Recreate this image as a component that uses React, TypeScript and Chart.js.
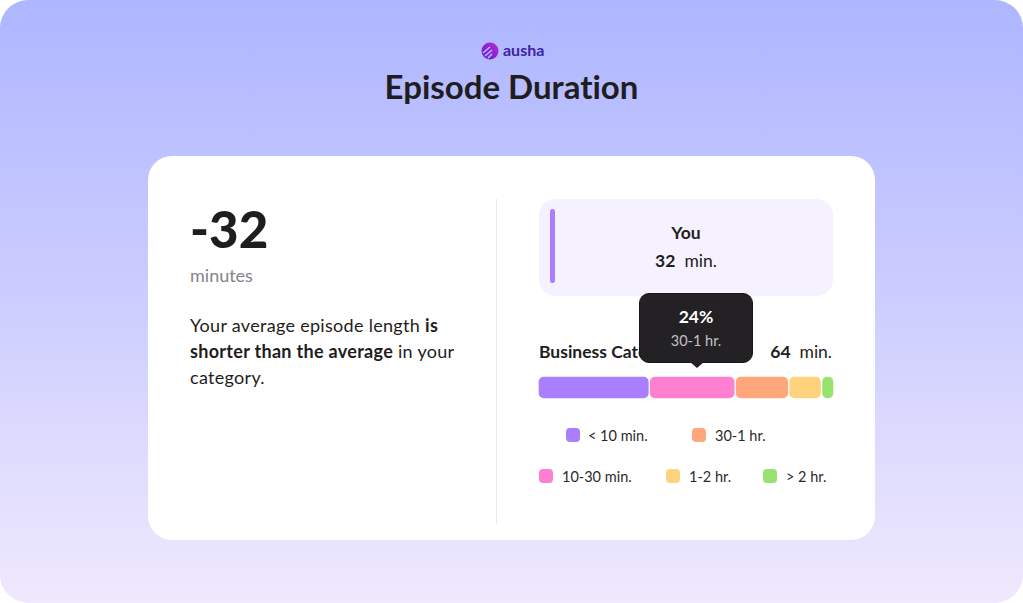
import { useEffect, useRef } from 'react';
import type { CSSProperties } from 'react';
import { Chart, registerables } from 'chart.js';

Chart.register(...registerables);

// share of episodes per duration bucket (%)
const categories = ['< 10 min.', '10-30 min.', '30-1 hr.', '1-2 hr.', '> 2 hr.'];
const shares = [37.6, 29, 18.1, 11.1, 4.2];
const colors = ['#a97eff', '#ff7fd1', '#ffa77b', '#ffd27d', '#98e26f'];

const legendRows = [
    [{ index: 0, swatch: 566, text: 588 }, { index: 2, swatch: 692, text: 715 }],
    [{ index: 1, swatch: 539, text: 562 }, { index: 3, swatch: 666, text: 689 }, { index: 4, swatch: 763, text: 786 }],
];
const legendTops = [435, 476];

const FONT = 'Lato, "Open Sans", sans-serif';
const INK = '#1f1d20';

const abs = (left: number, top: number, extra: CSSProperties = {}): CSSProperties => ({
    position: 'absolute',
    left,
    top,
    whiteSpace: 'nowrap',
    ...extra,
});

function DurationBar() {
    const canvasRef = useRef<HTMLCanvasElement>(null);

    useEffect(() => {
        if (!canvasRef.current) return;
        // floating bars, because stacked ones only round the ends of the stack
        let start = 0;
        const datasets = categories.map((label, i) => {
            const range: [number, number] = [start, start + shares[i]];
            start += shares[i];
            return {
                label,
                data: [range],
                backgroundColor: colors[i],
                borderColor: '#ffffff',
                borderWidth: 1,
                borderSkipped: false,
                borderRadius: 6,
                barThickness: 23,
                grouped: false,
            };
        });
        const chart = new Chart(canvasRef.current, {
            type: 'bar',
            data: { labels: ['Business'], datasets },
            options: {
                indexAxis: 'y',
                animation: false,
                responsive: false,
                maintainAspectRatio: false,
                layout: { padding: 0 },
                plugins: { legend: { display: false }, tooltip: { enabled: false } },
                scales: {
                    x: { display: false, min: 0, max: 100 },
                    y: { display: false },
                },
            },
        });
        return () => chart.destroy();
    }, []);

    return <canvas ref={canvasRef} width={296} height={33} style={abs(538, 371, { width: 296, height: 33 })} />;
}

export default function App() {
    const bodyLine: CSSProperties = { fontSize: 18, lineHeight: '26px', letterSpacing: 0.3 };
    return (
        <div style={{ position: 'absolute', left: 0, top: 0, width: 1023, height: 603, background: '#fff', fontFamily: FONT, color: INK, overflow: 'hidden', fontVariantLigatures: 'none' }}>
            <div style={{ position: 'absolute', inset: 0, borderRadius: 28, background: 'linear-gradient(180deg, #aeb6ff 0%, #c6c8ff 40%, #efe9fd 100%)' }} />

            <svg width={18} height={18} viewBox="0 0 18 18" style={abs(481, 42)}>
                <defs>
                    <linearGradient id="logo" x1="0" y1="1" x2="1" y2="0">
                        <stop offset="0" stopColor="#5b1fd0" />
                        <stop offset="1" stopColor="#c026d3" />
                    </linearGradient>
                </defs>
                <circle cx="9" cy="9" r="8.5" fill="url(#logo)" />
                <path d="M2 11 L9 5 M4 14 L11 8 M7 16 L11 12" stroke="#b5baff" strokeWidth="1.6" />
            </svg>
            <div style={abs(503, 40, { fontSize: 16, fontWeight: 700, color: '#3f1fa3', lineHeight: '19px' })}>ausha</div>
            <div style={abs(0, 66, { width: 1023, textAlign: 'center', fontSize: 33, fontWeight: 700, lineHeight: '40px' })}>Episode Duration</div>

            <div style={abs(148, 156, { width: 727, height: 384, background: '#fff', borderRadius: 24 })} />
            <div style={abs(496, 199, { width: 1, height: 325, background: '#e9e9ec' })} />

            <div style={abs(190, 198, { fontSize: 51, fontWeight: 900, lineHeight: '62px' })}>-32</div>
            <div style={abs(190, 264, { fontSize: 18, color: '#85838a', lineHeight: '22px' })}>minutes</div>
            <div style={abs(190, 312, bodyLine)}>
                <span>Your average episode length </span><b>is</b>
            </div>
            <div style={abs(190, 338, bodyLine)}>
                <b>shorter than the average</b><span> in your</span>
            </div>
            <div style={abs(190, 364, bodyLine)}>category.</div>

            <div style={abs(539, 199, { width: 294, height: 97, background: '#f5f1ff', borderRadius: 16 })} />
            <div style={abs(550, 209, { width: 5, height: 74, background: '#a97eff', borderRadius: 3 })} />
            <div style={abs(539, 222, { width: 294, textAlign: 'center', fontSize: 17.5, fontWeight: 700, lineHeight: '22px' })}>You</div>
            <div style={abs(539, 250, { width: 294, textAlign: 'center', fontSize: 17.5, lineHeight: '22px' })}>
                <b>32</b>&nbsp; min.
            </div>

            <div style={abs(539, 341, { fontSize: 17.5, fontWeight: 700, lineHeight: '22px' })}>Business Category</div>
            <div style={abs(733, 341, { width: 99, textAlign: 'right', fontSize: 17.5, lineHeight: '22px' })}>
                <b>64</b>&nbsp; min.
            </div>

            <DurationBar />

            <div style={abs(639, 293, { width: 114, height: 70, background: '#232124', borderRadius: 10, border: '1px solid #17161a', boxSizing: 'border-box', textAlign: 'center' })}>
                <div style={{ color: '#fff', fontSize: 17.5, fontWeight: 700, lineHeight: '22px', marginTop: 12 }}>24%</div>
                <div style={{ color: '#c4c3c7', fontSize: 14.5, lineHeight: '20px', marginTop: 3 }}>30-1 hr.</div>
            </div>
            <div style={abs(690, 362, { width: 0, height: 0, borderLeft: '7px solid transparent', borderRight: '7px solid transparent', borderTop: '6px solid #232124' })} />

            {legendRows.map((row, r) =>
                row.map(item => (
                    <div key={item.index}>
                        <div style={abs(item.swatch, legendTops[r] - 7, { width: 14, height: 14, borderRadius: 4, background: colors[item.index] })} />
                        <div style={abs(item.text, legendTops[r] - 9, { fontSize: 14.5, lineHeight: '20px', color: '#2b2a2e' })}>{categories[item.index]}</div>
                    </div>
                ))
            )}
        </div>
    );
}
